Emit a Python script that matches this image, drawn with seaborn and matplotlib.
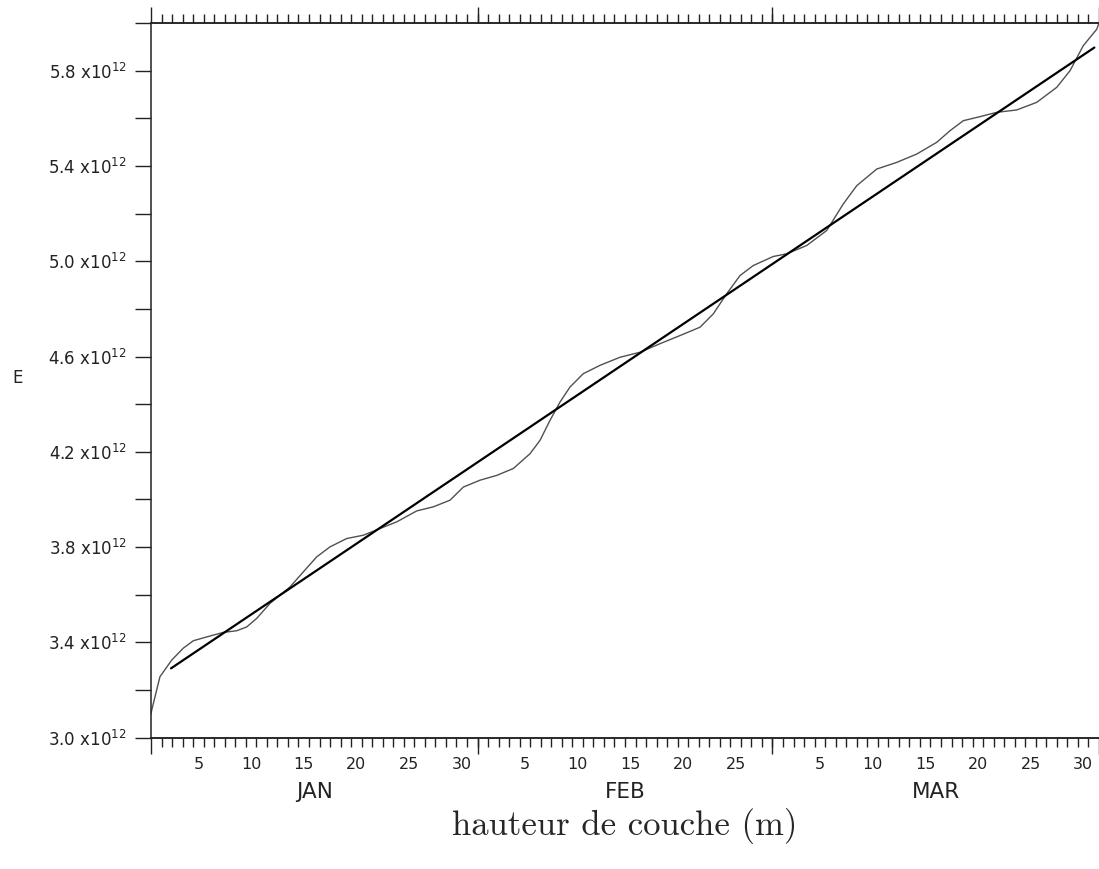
import matplotlib
matplotlib.use('Agg')
import numpy as np
import pandas as pd
import matplotlib.pyplot as plt
import matplotlib.ticker as ticker
import seaborn as sns

# day of year (0 = 1 Jan 00h) and E in units of 1e12
days = [0.0, 0.07, 0.85, 1.97, 3.07, 4.02, 5.29, 6.86, 8.14, 9.09, 10.04, 11.30,
        13.20, 14.46, 15.73, 16.99, 18.58, 20.16, 21.74, 23.33, 25.23, 26.80,
        28.39, 29.65, 31.24, 32.82, 34.40, 35.98, 36.93, 37.88, 38.83, 39.78,
        41.04, 42.63, 44.53, 46.43, 48.33, 50.22, 52.12, 53.38, 54.65, 55.92,
        57.18, 59.08, 60.35, 62.25, 64.15, 65.73, 67.00, 68.90, 70.80, 72.70,
        74.59, 75.86, 77.12, 78.71, 80.29, 82.19, 84.09, 85.99, 87.25, 88.51,
        89.79, 90.0]
energy = [3.10, 3.116, 3.256, 3.326, 3.376, 3.407, 3.423, 3.442, 3.449, 3.465,
          3.501, 3.564, 3.633, 3.696, 3.759, 3.801, 3.836, 3.850, 3.878, 3.906,
          3.952, 3.969, 3.997, 4.052, 4.081, 4.101, 4.130, 4.192, 4.248, 4.332,
          4.409, 4.472, 4.528, 4.563, 4.597, 4.618, 4.654, 4.688, 4.723, 4.779,
          4.863, 4.940, 4.982, 5.020, 5.031, 5.066, 5.129, 5.241, 5.317, 5.387,
          5.415, 5.450, 5.499, 5.548, 5.590, 5.607, 5.625, 5.635, 5.667, 5.730,
          5.800, 5.905, 5.974, 6.000]

# linear trend
trend_days = [1.90, 89.56]
trend_energy = [3.291, 5.897]

month_names = ['JAN', 'FEB', 'MAR']
month_starts = [0, 31, 59, 90]
month_lengths = [31, 28, 31]
day_labels = [[5, 10, 15, 20, 25, 30], [5, 10, 15, 20, 25], [5, 10, 15, 20, 25, 30]]

sns.set_style('ticks')
plt.rcParams['font.family'] = ['DejaVu Sans']

fig = plt.figure(figsize=(10.99, 8.69), dpi=100)
ax = fig.add_axes([151 / 1099, (869 - 737.7) / 869, 948 / 1099, 714.7 / 869])

df = pd.DataFrame({'day': days, 'E': energy})
sns.lineplot(data=df, x='day', y='E', color='#505050', linewidth=1.0, ax=ax)
tr = pd.DataFrame({'day': trend_days, 'E': trend_energy})
sns.lineplot(data=tr, x='day', y='E', color='black', linewidth=1.6, ax=ax)

ax.set_xlim(0, 90)
ax.set_ylim(3.0, 6.0)
ax.spines['right'].set_visible(False)
for s in ['left', 'top', 'bottom']:
    ax.spines[s].set_linewidth(1.1)
    ax.spines[s].set_color('#222222')

# day labels at noon of the day
pos, lab = [], []
for m, start in enumerate(month_starts[:3]):
    for d in day_labels[m]:
        pos.append(start + d - 0.5)
        lab.append(str(d))
ax.set_xticks(pos)
ax.set_xticklabels(lab)
ax.set_xticks(np.arange(1, 90), minor=True)
ax.tick_params(axis='x', which='major', length=0, pad=14, labelsize=11.5, colors='#222222')
ax.tick_params(axis='x', which='minor', bottom=True, top=True, direction='out',
               length=6.5, width=1, color='#222222')

# y ticks every 0.2, labels every 0.4
ax.set_yticks(np.arange(3.0, 6.01, 0.2))
def ylab(v, p):
    k = int(round((v - 3.0) / 0.2))
    if k % 2 == 0 and v < 5.9:
        return '{:.1f} x10$^{{12}}$'.format(v)
    return ''
ax.yaxis.set_major_formatter(ticker.FuncFormatter(ylab))
ax.tick_params(axis='y', which='major', left=True, direction='out', length=11.5,
               width=1, pad=6, labelsize=12, colors='#222222')

# month ticks and names
month_mid = [month_starts[i] + month_lengths[i] / 2 for i in range(3)]
sec_b = ax.secondary_xaxis('bottom')
sec_b.set_xticks(month_mid)
sec_b.set_xticklabels(month_names)
sec_b.set_xticks(month_starts, minor=True)
sec_b.tick_params(which='major', length=0, pad=32, labelsize=15.5, colors='#222222')
sec_b.tick_params(which='minor', direction='out', length=11.5, width=1, color='#222222')
sec_b.spines['bottom'].set_linewidth(1.1)

sec_t = ax.secondary_xaxis('top')
sec_t.set_xticks([])
sec_t.set_xticks(month_starts, minor=True)
sec_t.tick_params(which='minor', direction='out', length=11.5, width=1, color='#222222')
sec_t.spines['top'].set_linewidth(1.1)

ax.set_ylabel('E', rotation=0, fontsize=12, color='#222222', ha='center', va='center')
ax.yaxis.set_label_coords(-0.1403, 0.503)
ax.set_xlabel('hauteur de couche (m)', fontfamily='cmr10', fontsize=25, va='center')
ax.xaxis.set_label_coords(0.5, -0.124)

fig.savefig('out.png', dpi=100)
